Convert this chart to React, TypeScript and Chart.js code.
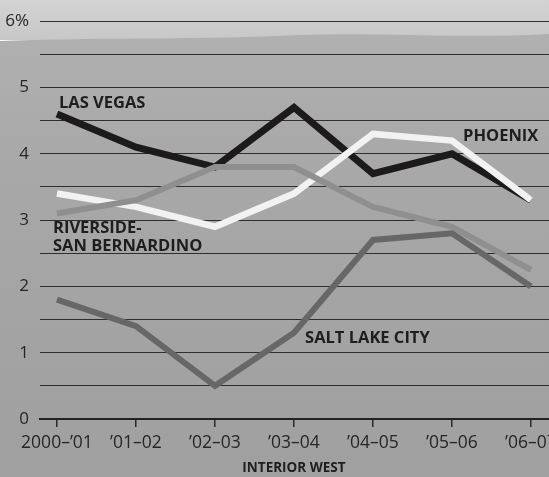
import React, { useEffect, useRef } from "react";
import { Chart, registerables } from "chart.js";

Chart.register(...registerables);

// Fiscal-year periods along the x axis
const periods = ["2000–’01", "’01–02", "’02–03", "’03–04", "’04–05", "’05–06", "’06–07"];

// Annual job growth, percent
const lasVegas = [4.6, 4.1, 3.8, 4.7, 3.7, 4.0, 3.3];
const phoenix = [3.4, 3.2, 2.9, 3.4, 4.3, 4.2, 3.3];
const riverside = [3.1, 3.3, 3.8, 3.8, 3.2, 2.9, 2.25];
const saltLakeCity = [1.8, 1.4, 0.5, 1.3, 2.7, 2.8, 2.0];

const yTickLabels: Record<number, string> = { 0: "0", 1: "1", 2: "2", 3: "3", 4: "4", 5: "5", 6: "6%" };

const regionTitle = "INTERIOR WEST";

// Series name tags, anchored in data coordinates (left edge, vertical middle)
const seriesTags = [
  { lines: ["LAS VEGAS"], x: 0.025, y: 4.76 },
  { lines: ["PHOENIX"], x: 5.14, y: 4.27 },
  { lines: ["RIVERSIDE-", "SAN BERNARDINO"], x: -0.05, y: 2.88 },
  { lines: ["SALT LAKE CITY"], x: 3.14, y: 1.22 },
];

const FONT = "'Open Sans', 'DejaVu Sans', sans-serif";

const toPoints = (vals: number[]) => vals.map((v, i) => ({ x: i, y: v }));

const backdrop = {
  id: "backdrop",
  beforeDraw(chart: any) {
    const { ctx, width, height } = chart;
    ctx.save();
    const horizon = 38;
    const sky = ctx.createLinearGradient(0, 0, 0, horizon);
    sky.addColorStop(0, "#d3d3d3");
    sky.addColorStop(1, "#c8c8c8");
    ctx.fillStyle = sky;
    ctx.fillRect(0, 0, width, horizon + 2);
    const ground = ctx.createLinearGradient(0, horizon, 0, height);
    ground.addColorStop(0, "#b0b0b0");
    ground.addColorStop(0.25, "#a9a9a9");
    ground.addColorStop(0.6, "#a4a4a4");
    ground.addColorStop(1, "#a0a0a0");
    ctx.fillStyle = ground;
    ctx.beginPath();
    ctx.moveTo(0, horizon + 3);
    ctx.bezierCurveTo(120, horizon - 1, 200, horizon + 2, 300, horizon - 3);
    ctx.bezierCurveTo(380, horizon - 6, 460, horizon + 1, width, horizon - 4);
    ctx.lineTo(width, height);
    ctx.lineTo(0, height);
    ctx.closePath();
    ctx.fill();
    ctx.restore();
  },
};

const annotations = {
  id: "annotations",
  afterDatasetsDraw(chart: any) {
    const { ctx } = chart;
    const xs = chart.scales.x;
    const ys = chart.scales.y;
    ctx.save();
    ctx.fillStyle = "#1e1e1e";
    ctx.font = `bold 16.5px ${FONT}`;
    ctx.textAlign = "left";
    ctx.textBaseline = "middle";
    seriesTags.forEach((t) => {
      const px = xs.getPixelForValue(t.x);
      const py = ys.getPixelForValue(t.y);
      t.lines.forEach((line, i) => ctx.fillText(line, px, py + i * 18));
    });
    ctx.font = `bold 13.5px ${FONT}`;
    ctx.textAlign = "center";
    ctx.fillText(regionTitle, xs.getPixelForValue(3), 468);
    ctx.restore();
  },
};

export default function App() {
  const ref = useRef<HTMLCanvasElement>(null);

  useEffect(() => {
    if (!ref.current) return;
    const line = (label: string, data: number[], color: string, width: number) => ({
      label,
      data: toPoints(data),
      borderColor: color,
      borderWidth: width,
      pointRadius: 0,
      tension: 0,
      fill: false,
      borderJoinStyle: "miter" as const,
    });
    const chart = new Chart(ref.current, {
      type: "line",
      data: {
        datasets: [
          line("Salt Lake City", saltLakeCity, "#676767", 6),
          line("Riverside-San Bernardino", riverside, "#8f8f8f", 6),
          line("Phoenix", phoenix, "#f2f2f2", 6.5),
          line("Las Vegas", lasVegas, "#1c1a1b", 7),
        ],
      },
      options: {
        animation: false,
        responsive: false,
        devicePixelRatio: 1,
        layout: { padding: { top: 17, right: 0, left: 0, bottom: 0 } },
        plugins: { legend: { display: false }, tooltip: { enabled: false } },
        scales: {
          x: {
            type: "linear",
            min: -0.215,
            max: 6.228,
            afterFit(scale: any) {
              scale.height = 58;
              scale.paddingLeft = 0;
              scale.paddingRight = 0;
            },
            afterBuildTicks(scale: any) {
              scale.ticks = periods.map((_, i) => ({ value: i }));
            },
            ticks: {
              autoSkip: false,
              maxRotation: 0,
              padding: 6,
              color: "#262626",
              font: { family: FONT, size: 17.5 },
              callback: (v: any) => periods[v as number] ?? "",
            },
            grid: {
              drawOnChartArea: false,
              drawTicks: true,
              tickLength: 8,
              color: "#2a2a2a",
              lineWidth: 1.5,
            },
            border: { display: true, color: "#222", width: 2 },
          },
          y: {
            min: 0,
            max: 6,
            afterFit(scale: any) {
              scale.width = 40;
            },
            ticks: {
              stepSize: 0.5,
              padding: 11,
              color: "#262626",
              font: { family: FONT, size: 17 },
              callback: (v: any) => yTickLabels[v as number] ?? "",
            },
            grid: { drawTicks: false, color: "#2e2e2e", lineWidth: 1 },
            border: { display: false },
          },
        },
      },
      plugins: [backdrop, annotations],
    });
    return () => chart.destroy();
  }, []);

  return (
    <div style={{ position: "fixed", left: 0, top: 0, width: 549, height: 477 }}>
      <canvas ref={ref} width={549} height={477} style={{ display: "block" }} />
    </div>
  );
}
